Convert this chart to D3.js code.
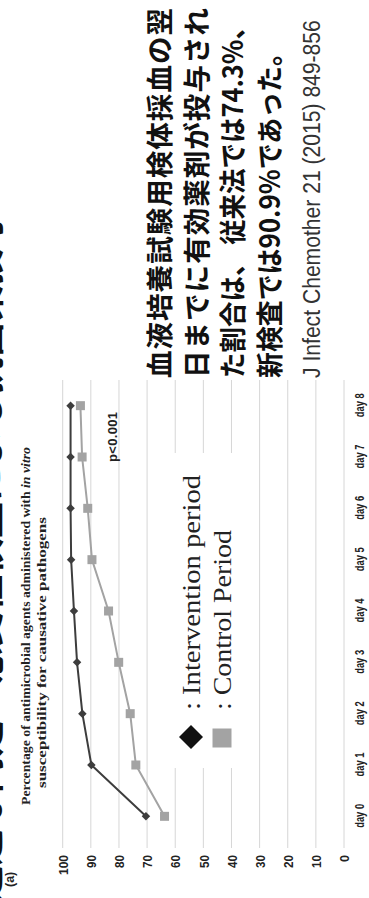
<!DOCTYPE html>
<html>
<head>
<meta charset="utf-8">
<script src="https://cdn.jsdelivr.net/npm/d3@7"></script>
<style>
  html, body { margin: 0; padding: 0; background: #fff; }
  svg { display: block; }
</style>
</head>
<body>
<div id="slide"></div>
<script>
// データ
const days = ["day 0", "day 1", "day 2", "day 3", "day 4", "day 5", "day 6", "day 7", "day 8"]
const interventionPct = [70.4, 89.8, 93.0, 94.9, 96.0, 97.0, 97.2, 97.2, 97.2]
const controlPct = [63.8, 74.0, 76.0, 80.1, 83.7, 89.6, 91.1, 93.1, 93.7]
const yTicks = [0, 10, 20, 30, 40, 50, 60, 70, 80, 90, 100]
const legendLabels = [": Intervention period", ": Control Period"]
const titleLines = ["Percentage of antimicrobial  agents administered  with  ", "susceptibility  for  causative pathogens"]
const noteLines = ["血液培養試験用検体採血の翌", "日までに有効薬剤が投与され", "た割合は、 従来法では74.3%、", "新検査では90.9%であった。"]
const citation = "J Infect Chemother 21 (2015) 849-856"
const slideTitle = "迅速な同定・感受性検査による抗菌薬投与"

let W = 369, H = 898

let svg = d3.select("#slide")
    .append("svg")
    .attr("width", W)
    .attr("height", H)

// スライド全体が90度回転しているので、回転前の座標(898x369)で描く
let g = svg.append("g")
    .attr("transform", "translate(0," + H + ") rotate(-90)")

let sans = "'Liberation Sans', Arial, sans-serif"
let serif = "'Liberation Serif', 'Times New Roman', serif"
let cjk = "'Noto Sans CJK JP', sans-serif"

// テキストを指定の長さに横方向だけ縮める（textLengthの代わり）
function fitText(sel, x0, y0, len) {
    let natural = sel.node().getComputedTextLength()
    sel.attr("x", 0).attr("y", 0)
        .attr("transform", "translate(" + x0 + "," + y0 + ") scale(" + (len / natural) + ",1)")
}

// 見切れているスライドタイトル（下端だけ見える）
let st = g.append("text")
    .attr("font-family", cjk)
    .attr("font-weight", "bold")
    .attr("font-size", 40)
    .attr("fill", "#111")
    .text(slideTitle)
fitText(st, -4, -1, 690)

let x = d3.scalePoint()
    .domain(days)
    .range([56, 518])
    .padding(0.5)

let y = d3.scaleLinear()
    .domain([0, 100])
    .range([344, 62.7])

//グリッド線
g.selectAll(".grid")
    .data(yTicks)
    .enter()
    .append("line")
    .attr("class", "grid")
    .attr("x1", 50)
    .attr("x2", 518)
    .attr("y1", d => y(d))
    .attr("y2", d => y(d))
    .attr("stroke", "#d6d6d6")
    .attr("stroke-width", 1)

// y軸ラベル
let yAxis = g.append("g")
    .attr("transform", "translate(43,0)")
    .call(d3.axisLeft(y).tickValues(yTicks).tickSize(0).tickPadding(0))
yAxis.select(".domain").remove()
yAxis.selectAll("text")
    .attr("font-family", sans)
    .attr("font-weight", "bold")
    .attr("font-size", 13)
    .attr("fill", "#222")
    .attr("dy", "0.36em")
    .attr("textLength", d => d === 100 ? 20 : (d === 0 ? 7 : 13))
    .attr("lengthAdjust", "spacingAndGlyphs")

// x軸ラベル
let xAxis = g.append("g")
    .attr("transform", "translate(0,364)")
    .call(d3.axisBottom(x).tickSize(0).tickPadding(0))
xAxis.select(".domain").remove()
xAxis.selectAll("text")
    .attr("font-family", sans)
    .attr("font-weight", "bold")
    .attr("font-size", 13)
    .attr("fill", "#222")
    .attr("dy", 0)
    .attr("textLength", 24)
    .attr("lengthAdjust", "spacingAndGlyphs")

// 凡例の白い箱（グリッド線を隠す）
g.append("rect")
    .attr("x", 130)
    .attr("y", 165)
    .attr("width", 315)
    .attr("height", 75)
    .attr("fill", "#fff")

let line = d3.line()
    .x((d, i) => x(days[i]))
    .y(d => y(d))

// Control (灰色)
g.append("path")
    .datum(controlPct)
    .attr("d", line)
    .attr("fill", "none")
    .attr("stroke", "#a3a3a3")
    .attr("stroke-width", 2)
g.selectAll(".ctrlPt")
    .data(controlPct)
    .enter()
    .append("rect")
    .attr("class", "ctrlPt")
    .attr("x", (d, i) => x(days[i]) - 4.5)
    .attr("y", d => y(d) - 4.5)
    .attr("width", 9)
    .attr("height", 9)
    .attr("fill", "#a3a3a3")

// Intervention (濃い灰色)
g.append("path")
    .datum(interventionPct)
    .attr("d", line)
    .attr("fill", "none")
    .attr("stroke", "#3d3d3d")
    .attr("stroke-width", 2)
g.selectAll(".intPt")
    .data(interventionPct)
    .enter()
    .append("rect")
    .attr("class", "intPt")
    .attr("x", -3)
    .attr("y", -3)
    .attr("width", 6)
    .attr("height", 6)
    .attr("transform", (d, i) => "translate(" + x(days[i]) + "," + y(d) + ") rotate(45)")
    .attr("fill", "#3d3d3d")

// 凡例
g.append("rect")
    .attr("x", -8.5)
    .attr("y", -8.5)
    .attr("width", 17)
    .attr("height", 17)
    .attr("transform", "translate(161,191) rotate(45)")
    .attr("fill", "#111")
g.append("rect")
    .attr("x", 160 - 9.5)
    .attr("y", 222 - 9.5)
    .attr("width", 19)
    .attr("height", 19)
    .attr("fill", "#a3a3a3")

g.selectAll(".legendText")
    .data(legendLabels)
    .enter()
    .append("text")
    .attr("class", "legendText")
    .attr("x", 188)
    .attr("y", (d, i) => i === 0 ? 200 : 231)
    .attr("font-family", serif)
    .attr("font-size", 25)
    .attr("fill", "#222")
    .attr("textLength", (d, i) => i === 0 ? 235 : 180)
    .attr("lengthAdjust", "spacingAndGlyphs")
    .text(d => d)

g.append("text")
    .attr("x", 436)
    .attr("y", 117)
    .attr("font-family", sans)
    .attr("font-weight", "bold")
    .attr("font-size", 13)
    .attr("fill", "#222")
    .attr("textLength", 50)
    .text("p<0.001")

// (a) とグラフタイトル
g.append("text")
    .attr("x", 11)
    .attr("y", 14)
    .attr("font-family", sans)
    .attr("font-weight", "bold")
    .attr("font-size", 12.5)
    .attr("fill", "#222")
    .text("(a)")

let t1 = g.append("text")
    .attr("x", 93)
    .attr("y", 30)
    .attr("font-family", serif)
    .attr("font-weight", "bold")
    .attr("font-size", 12)
    .attr("fill", "#222")
    .attr("textLength", 358)
    .attr("lengthAdjust", "spacingAndGlyphs")
t1.append("tspan").text(titleLines[0])
t1.append("tspan").attr("font-style", "italic").text("in vitro")

g.append("text")
    .attr("x", 110)
    .attr("y", 46)
    .attr("font-family", serif)
    .attr("font-weight", "bold")
    .attr("font-size", 12)
    .attr("fill", "#222")
    .attr("textLength", 271)
    .attr("lengthAdjust", "spacingAndGlyphs")
    .text(titleLines[1])

// 右側の説明文
let noteLen = [370, 370, 364, 338]
noteLines.forEach(function (d, i) {
    let t = g.append("text")
        .attr("class", "note")
        .attr("font-family", cjk)
        .attr("font-weight", "bold")
        .attr("font-size", 27.5)
        .attr("fill", "#111")
        .text(d)
    if (i < 2) {
        // 短い行は字間で広げる
        t.attr("x", 520).attr("y", 170 + i * 36.5)
            .attr("textLength", noteLen[i])
    } else {
        fitText(t, 520, 170 + i * 36.5, noteLen[i])
    }
})

let cit = g.append("text")
    .attr("font-family", sans)
    .attr("font-size", 24)
    .attr("fill", "#333")
    .text(citation)
fitText(cit, 520, 320, 358)
</script>
</body>
</html>
